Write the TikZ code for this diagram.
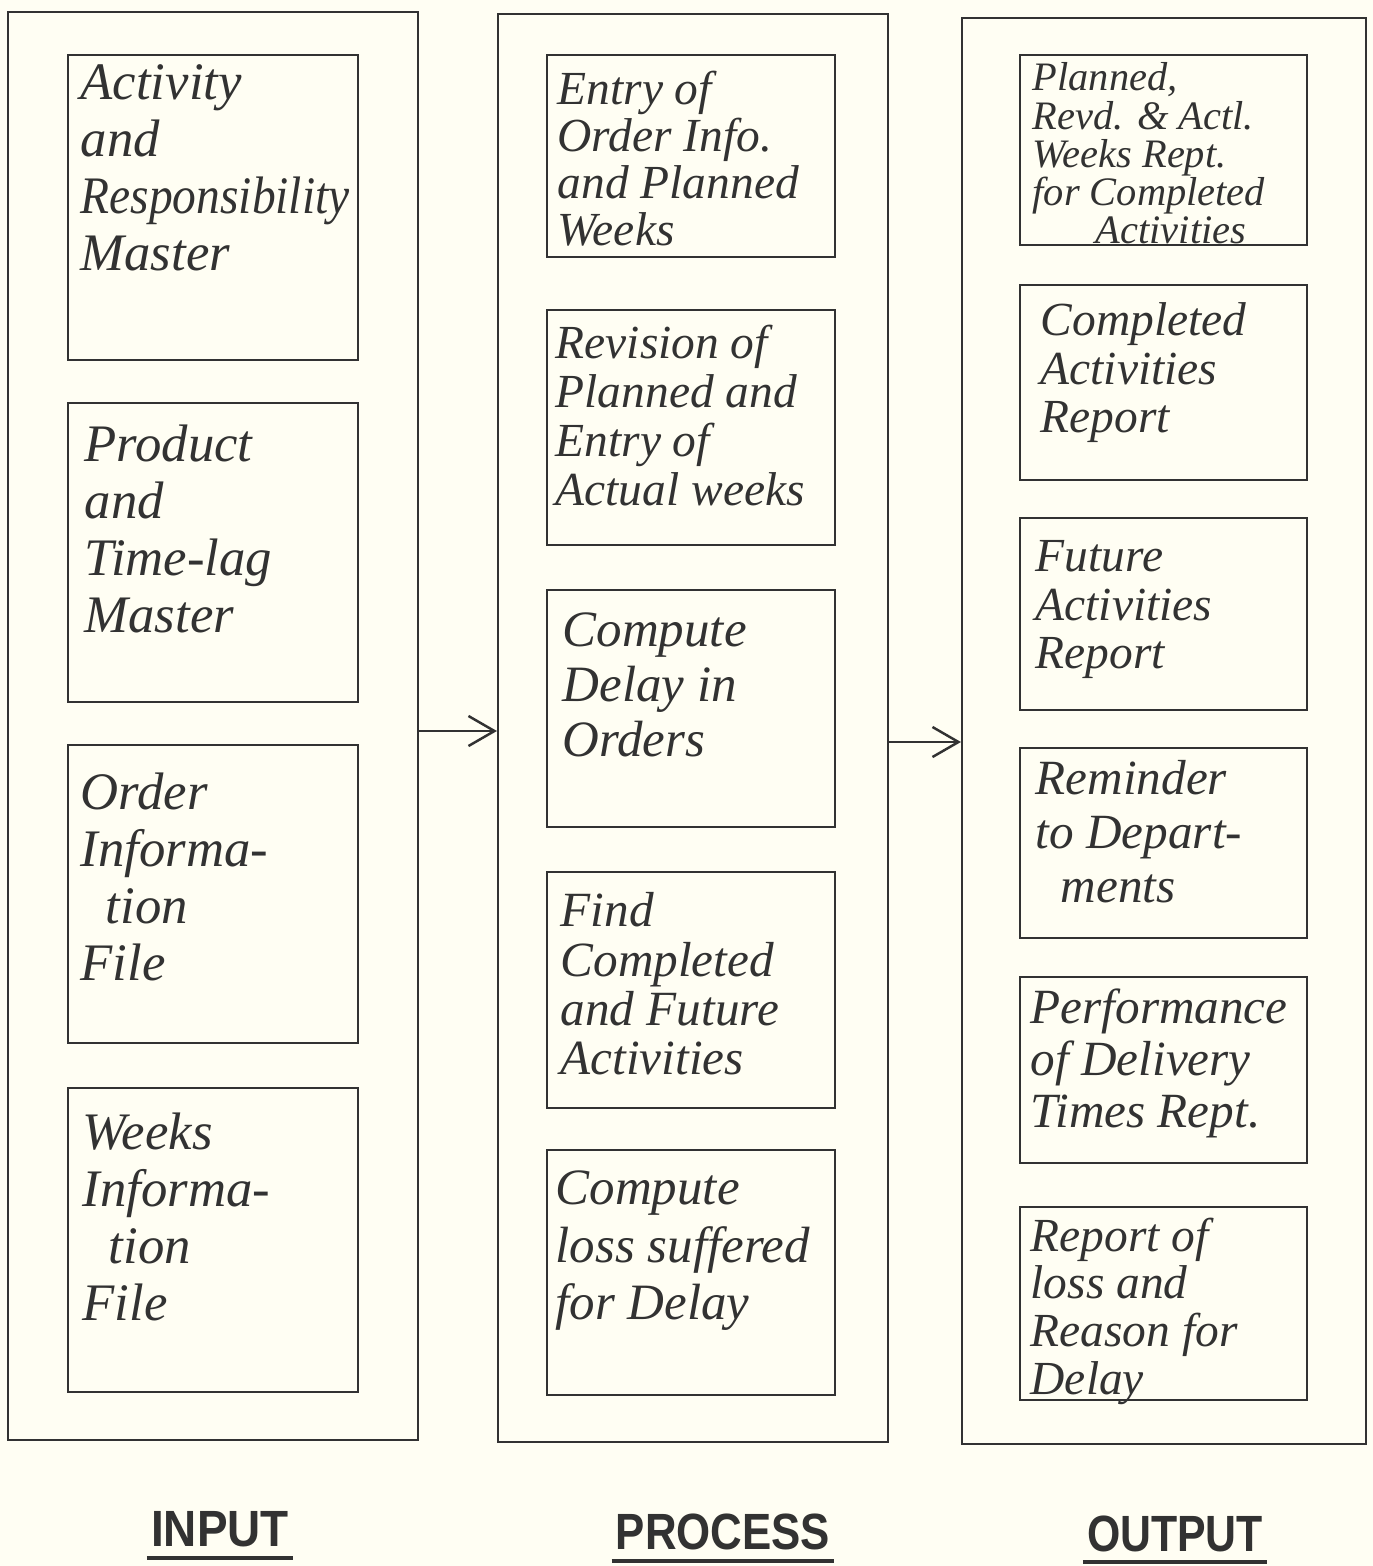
\documentclass[tikz,border=0pt]{standalone}
\usepackage{fontspec}
\setmainfont{Liberation Serif}
\newfontfamily\labelfont{Liberation Sans}
\usetikzlibrary{fit,arrows.meta}
\definecolor{paper}{RGB}{255,254,243}
\definecolor{ink}{RGB}{50,50,50}
\begin{document}
\begin{tikzpicture}[x=0.1mm,y=-0.1mm,
  column/.style={draw=ink, line width=0.6pt, inner sep=0pt},
  item/.style={draw=ink, line width=0.6pt, inner sep=0pt},
  hand/.style 2 args={anchor=north west, inner sep=0pt, align=left, text=ink,
    font=\itshape\fontsize{#1}{#2}\selectfont},
  flow/.style={draw=ink, line width=0.7pt, -{Straight Barb[length=2.6mm,width=3mm]}},
  heading/.style={anchor=base, text=ink, inner sep=1pt, font=\labelfont\bfseries\fontsize{14.5}{17}\selectfont},
  uline/.style={draw=ink, line width=1.4pt}]

% paper
\fill[paper] (0,0) rectangle (1373,1566);
\useasboundingbox (0,0) rectangle (1373,1566);

% three columns
\node[column, fit={(8,12) (418,1440)}] (incol) {};
\node[column, fit={(498,14) (888,1442)}] (proccol) {};
\node[column, fit={(962,18) (1366,1444)}] (outcol) {};

% input boxes
\node[item, fit={(68,55) (358,360)}] (in1) {};
\node[item, fit={(68,403) (358,702)}] (in2) {};
\node[item, fit={(68,745) (358,1043)}] (in3) {};
\node[item, fit={(68,1088) (358,1392)}] (in4) {};

\node[hand={15pt}{16.2pt}] (tin1) at (80,64) {Activity\\and\\\scalebox{0.9}[1]{Responsibility}\\Master};
\node[hand={15pt}{16.2pt}] (tin2) at (84,424) {Product\\and\\Time-lag\\Master};
\node[hand={15pt}{16.2pt}] (tin3) at (80,772) {Order\\Informa-\\\hspace*{2.5mm}tion\\File};
\node[hand={15pt}{16.2pt}] (tin4) at (82,1112) {Weeks\\Informa-\\\hspace*{2.6mm}tion\\File};

% process boxes
\node[item, fit={(547,55) (835,257)}] (pr1) {};
\node[item, fit={(547,310) (835,545)}] (pr2) {};
\node[item, fit={(547,590) (835,827)}] (pr3) {};
\node[item, fit={(547,872) (835,1108)}] (pr4) {};
\node[item, fit={(547,1150) (835,1395)}] (pr5) {};

\node[hand={13.5pt}{13.4pt}] (tpr1) at (557,70) {Entry of\\Order Info.\\and Planned\\Weeks};
\node[hand={13.5pt}{14pt}] (tpr2) at (555,324) {Revision of\\Planned and\\Entry of\\Actual weeks};
\node[hand={14.5pt}{15.6pt}] (tpr3) at (562,612) {Compute\\Delay in\\Orders};
\node[hand={14pt}{14pt}] (tpr4) at (560,892) {Find\\Completed\\and Future\\Activities};
\node[hand={14.5pt}{16.4pt}] (tpr5) at (555,1170) {Compute\\loss suffered\\for Delay};

% output boxes
\node[item, fit={(1020,55) (1307,245)}] (ou1) {};
\node[item, fit={(1020,285) (1307,480)}] (ou2) {};
\node[item, fit={(1020,518) (1307,710)}] (ou3) {};
\node[item, fit={(1020,748) (1307,938)}] (ou4) {};
\node[item, fit={(1020,977) (1307,1163)}] (ou5) {};
\node[item, fit={(1020,1207) (1307,1400)}] (ou6) {};

\node[hand={11.5pt}{10.9pt}] (tou1) at (1032,62) {Planned,\\Revd. \& Actl.\\Weeks Rept.\\for Completed\\\hspace*{6.3mm}Activities};
\node[hand={13.5pt}{13.8pt}] (tou2) at (1040,302) {Completed\\Activities\\Report};
\node[hand={13.5pt}{13.8pt}] (tou3) at (1035,540) {Future\\Activities\\Report};
\node[hand={14pt}{15.3pt}] (tou4) at (1035,760) {Reminder\\to Depart-\\\hspace*{2.5mm}ments};
\node[hand={14pt}{14.8pt}] (tou5) at (1030,988) {Performance\\of Delivery\\Times Rept.};
\node[hand={13.5pt}{13.6pt}] (tou6) at (1030,1217) {Report of\\loss and\\Reason for\\Delay};

% flow between the columns
\draw[flow] ([yshift=-0.5mm]incol.east) -- ([yshift=-0.5mm]incol.east -| proccol.west);
\draw[flow] ([yshift=-1.4mm]proccol.east) -- ([yshift=-1.4mm]proccol.east -| outcol.west);

% column headings
\node[heading] (hin) at (220,1546) {\scalebox{0.9}[1]{INPUT}};
\node[heading] (hpr) at (723,1549) {\scalebox{0.86}[1]{PROCESS}};
\node[heading] (hou) at (1175,1551) {\scalebox{0.84}[1]{OUTPUT}};
\draw[uline] ([yshift=-1.2mm]hin.base west) -- ([yshift=-1.2mm]hin.base east);
\draw[uline] ([yshift=-1.2mm]hpr.base west) -- ([yshift=-1.2mm]hpr.base east);
\draw[uline] ([yshift=-1.1mm]hou.base west) -- ([yshift=-1.1mm]hou.base east);
\end{tikzpicture}
\end{document}
